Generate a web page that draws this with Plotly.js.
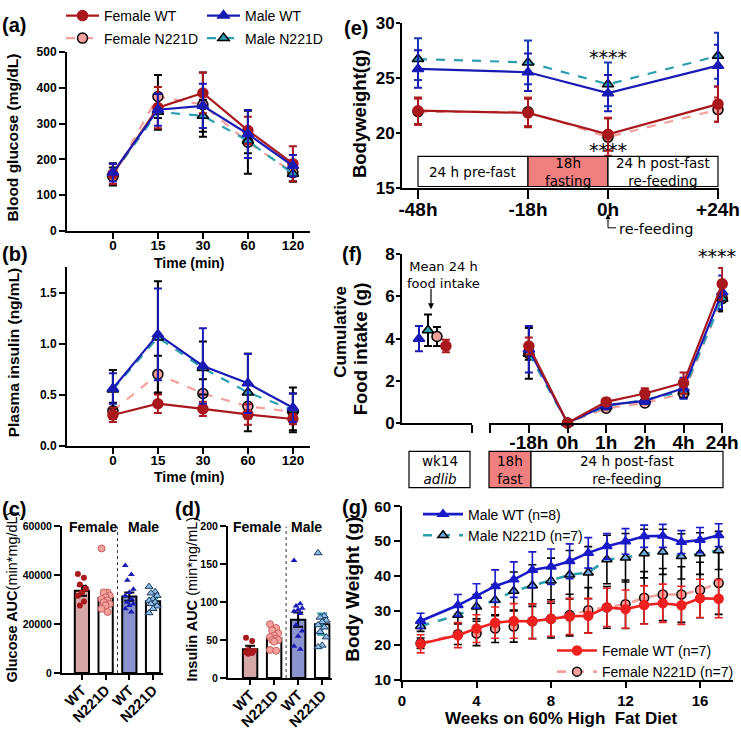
<!DOCTYPE html>
<html><head><meta charset="utf-8">
<script src="https://cdn.plot.ly/plotly-3.0.1.min.js"></script>
<style>html,body{margin:0;padding:0;background:#fff}#plot{width:741px;height:729px}</style>
</head><body><div id="plot"></div>
<script>
// ---------- DATA ----------
// (a) glucose tolerance
const aTime = ['0','15','30','60','120'];
const aFemaleWT = [159,345,386,281,188], aFemaleWTErr = [28,58,57,38,49];
const aFemaleN221D = [152,376,353,248,163], aFemaleN221DErr = [25,60,90,88,25];
const aMaleWT = [163,339,350,271,182], aMaleWTErr = [25,45,62,67,30];
const aMaleN221D = [159,333,322,252,160], aMaleN221DErr = [30,50,45,35,22];
// (b) plasma insulin
const bFemaleWT = [0.30,0.41,0.36,0.305,0.26], bFemaleWTErr = [0.07,0.09,0.07,0.10,0.05];
const bFemaleN221D = [0.34,0.70,0.51,0.385,0.33], bFemaleN221DErr = [0.08,0.18,0.14,0.12,0.18];
const bMaleWT = [0.56,1.09,0.78,0.61,0.37], bMaleWTErr = [0.15,0.45,0.37,0.29,0.14];
const bMaleN221D = [0.55,1.06,0.76,0.52,0.35], bMaleN221DErr = [0.19,0.55,0.26,0.38,0.22];
// (c) glucose AUC
const cdGroups = ['WT','N221D','WT','N221D'];
const cMeans = [33700,30700,31300,29400], cSem = [2000,2300,1700,1200];
const cFemaleWTPts = [40600,39000,36300,34600,33000,31700,29300,27700];
const cFemaleN221DPts = [51000,33000,33000,31700,31000,30300,29700,29000,28300,27700,26300,25000];
const cMaleWTPts = [44000,40300,38000,34300,33000,31700,30300,29000,28300,27700,26300,25000];
const cMaleN221DPts = [35400,33300,32700,31700,30300,29700,29000,28300,27400,26300,24600];
// (d) insulin AUC
const dMeans = [38,52,77,71], dSem = [4.5,3,9.5,14];
const dFemaleWTPts = [53,49,37,36,35,34,33,32];
const dFemaleN221DPts = [71,66,63,59,56,54,52,50,50,48,37,36];
const dMaleWTPts = [155,98,95,92,90,88,85,70,62,55,42,38];
const dMaleN221DPts = [165,82,80,76,74,70,67,61,54,43,41];
// (e) bodyweight around fasting
const eLabels = ['-48h','-18h','0h','+24h'];
const eMaleN221D = [26.7,26.4,24.4,27.0], eMaleN221DErr = [1.9,2.0,2.0,2.1];
const eMaleWT = [25.8,25.5,23.6,26.1], eMaleWTErr = [1.7,1.7,1.65,1.9];
const eFemaleWT = [22.0,21.8,19.85,22.6], eFemaleWTErr = [1.2,1.3,1.5,1.6];
const eFemaleN221D = [21.9,21.9,19.6,22.1], eFemaleN221DErr = [1.2,1.3,1.7,1.1];
// (f) cumulative food intake
const fMeanOrder = ['Male WT','Male N221D','Female N221D','Female WT'];
const fMean24h = [4.0,4.4,4.1,3.65], fMean24hErr = [0.6,0.75,0.45,0.3];
const fTimes = ['-18h','0h','1h','2h','4h','24h'];
const fMaleWT = [3.5,0,0.85,1.05,1.65,6.2], fMaleWTErr = [1.1,0.05,0.2,0.15,0.5,0.8];
const fMaleN221D = [3.3,0,0.8,1.1,1.5,5.9], fMaleN221DErr = [1.2,0.05,0.15,0.15,0.3,0.6];
const fFemaleWT = [3.65,0,1.0,1.4,1.9,6.6], fFemaleWTErr = [0.4,0.05,0.15,0.25,0.5,0.75];
const fFemaleN221D = [3.3,0,0.7,0.95,1.4,5.9], fFemaleN221DErr = [0.3,0.05,0.1,0.15,0.2,0.6];
// (g) body weight on HFD
const gWeeks = [1,3,4,5,6,7,8,9,10,11,12,13,14,15,16,17];
const gMaleWT = [27.0,31.5,34.2,37.0,38.9,41.7,42.6,44.2,46.6,48.5,49.9,51.4,51.5,49.7,50.3,51.7];
const gMaleWTErr = [2.2,3.1,3.5,4.7,5.1,5.2,5.1,5.0,4.4,3.7,3.7,3.2,3.3,3.3,3.6,3.3];
const gMaleN221D = [25.5,28.7,31.1,33.0,35.6,37.2,38.6,40.3,40.9,44.7,45.2,46.4,46.9,45.6,46.4,47.3];
const gMaleN221DErr = [1.5,2.5,3.5,4.5,5.5,6.0,6.5,7.0,7.5,7.0,7.0,7.0,6.5,6.5,6.0,5.5];
const gFemaleWT = [20.4,22.9,24.8,26.5,27.0,26.9,27.6,28.3,28.5,30.9,30.4,31.6,32.1,31.5,33.5,33.4];
const gFemaleWTErr = [2.6,3.6,4.0,4.5,5.0,5.0,5.0,5.2,5.0,5.5,5.5,5.5,5.5,5.5,5.5,5.5];
const gFemaleN221D = [20.6,23.2,23.4,24.8,25.4,26.9,27.6,28.7,30.1,30.9,31.8,33.7,34.6,34.6,35.9,37.9];
const gFemaleN221DErr = [1.5,3.0,3.5,4.0,4.5,5.0,5.5,6.0,6.5,6.0,7.0,7.5,7.5,8.0,8.0,9.0];

// ---------- HELPERS ----------
const W = 741, H = 729;
const PX = v => v / W, PY = v => 1 - v / H;
const F = 'Liberation Sans, Arial, sans-serif';
const FD = 'DejaVu Sans, sans-serif';
const bold = (size) => ({family: F, size: size, color: '#000', weight: 'bold'});

function axis(extra) {
  return Object.assign({
    showline: true, linecolor: '#000', linewidth: 2, mirror: false,
    ticks: 'outside', ticklen: 6, tickwidth: 2, tickcolor: '#000',
    showgrid: false, zeroline: false, fixedrange: true,
    tickfont: bold(12)
  }, extra);
}

const ST = {
  fWT: {name: 'Female WT', line: '#a8181c', fill: '#a8181c', edge: '#a8181c', dash: 'solid', symbol: 'circle', err: '#a8181c'},
  fN:  {name: 'Female N221D', line: '#f4a09c', fill: '#f4a09c', edge: '#000', dash: 'dash', symbol: 'circle', err: '#000'},
  mWT: {name: 'Male WT', line: '#1a1ab4', fill: '#1a1ab4', edge: '#1a1ab4', dash: 'solid', symbol: 'triangle-up', err: '#1a1ab4'},
  mN:  {name: 'Male N221D', line: '#2b9fb0', fill: '#2b9fb0', edge: '#000', dash: 'dash', symbol: 'triangle-up', err: '#000'}
};

function series(xa, ya, x, y, err, s, extra) {
  return Object.assign({
    type: 'scatter', mode: 'lines+markers', x: x, y: y, xaxis: xa, yaxis: ya,
    name: s.name, showlegend: false, cliponaxis: false,
    line: {color: s.line, width: 2.2, dash: s.dash},
    marker: {symbol: s.symbol, size: 10, color: s.fill, line: {color: s.edge, width: 1.5}},
    error_y: {type: 'data', array: err, visible: true, color: s.err, thickness: 2, width: 4}
  }, extra || {});
}

const traces = [];
// (a)
[['fN', aFemaleN221D, aFemaleN221DErr, 'legend2'], ['mN', aMaleN221D, aMaleN221DErr, 'legend2'],
 ['fWT', aFemaleWT, aFemaleWTErr, 'legend'], ['mWT', aMaleWT, aMaleWTErr, 'legend']].forEach(r => {
  traces.push(series('x', 'y', aTime, r[1], r[2], ST[r[0]], {showlegend: true, legend: r[3]}));
});
// (b)
[['fN', bFemaleN221D, bFemaleN221DErr], ['mN', bMaleN221D, bMaleN221DErr],
 ['fWT', bFemaleWT, bFemaleWTErr], ['mWT', bMaleWT, bMaleWTErr]].forEach(r => {
  traces.push(series('x2', 'y2', aTime, r[1], r[2], ST[r[0]]));
});

// (c),(d) bars + points
const jit = n => Array.from({length: n}, (_, k) => ((k * 3) % 5 - 2) * 0.085);
const barFill = ['#d6a7a7', '#ffffff', '#8b93cf', '#ffffff'];
const errCol = ['#000', '#f08080', '#000', '#2b9fb0'];
const ptStyle = [
  {symbol: 'circle', size: 6, color: '#a8181c', line: {color: '#a8181c', width: 0}},
  {symbol: 'circle', size: 7, color: '#f4a09c', line: {color: '#c86060', width: 1}},
  {symbol: 'triangle-up', size: 6, color: '#1a1ab4', line: {color: '#1a1ab4', width: 0}},
  {symbol: 'triangle-up', size: 7, color: '#8fbbe3', line: {color: '#1a3a60', width: 1}}
];
function barPanel(xa, ya, means, sem, pts) {
  means.forEach((m, i) => {
    traces.push({type: 'bar', x: [i], y: [m], xaxis: xa, yaxis: ya, width: 0.6, showlegend: false,
      marker: {color: barFill[i], line: {color: '#000', width: 2}},
      error_y: {type: 'data', array: [sem[i]], visible: true, color: errCol[i], thickness: 2, width: 5}});
  });
  pts.forEach((p, i) => {
    const j = jit(p.length);
    traces.push({type: 'scatter', mode: 'markers', x: p.map((_, k) => i + j[k]), y: p,
      xaxis: xa, yaxis: ya, showlegend: false, cliponaxis: false, marker: ptStyle[i]});
  });
}
barPanel('x3', 'y3', cMeans, cSem, [cFemaleWTPts, cFemaleN221DPts, cMaleWTPts, cMaleN221DPts]);
barPanel('x4', 'y4', dMeans, dSem, [dFemaleWTPts, dFemaleN221DPts, dMaleWTPts, dMaleN221DPts]);

// (e) positions on the custom-spaced time axis (layout spacing, px-like units)
const eSeg = [16, 110, 80, 110];
const ePos = eSeg.reduce((acc, v) => { acc.push((acc.length ? acc[acc.length - 1] : 0) + v); return acc; }, []);
const eStyle = {
  fN: Object.assign({}, ST.fN, {err: '#c03030'}), mN: Object.assign({}, ST.mN, {err: '#1a3ab4'})
};
traces.push(series('x5', 'y5', ePos, eFemaleN221D, eFemaleN221DErr, eStyle.fN));
traces.push(series('x5', 'y5', ePos, eMaleN221D, eMaleN221DErr, eStyle.mN));
traces.push(series('x5', 'y5', ePos, eMaleWT, eMaleWTErr, ST.mWT));
traces.push(series('x5', 'y5', ePos, eFemaleWT, eFemaleWTErr, ST.fWT));

// (f) left: mean 24h intake
const fKeys = ['mWT', 'mN', 'fN', 'fWT'];
fMeanOrder.forEach((nm, i) => {
  traces.push(series('x6', 'y6', [i], [fMean24h[i]], [fMean24hErr[i]], ST[fKeys[i]], {mode: 'markers'}));
});
// (f) right
const fIdx = fTimes.map((_, i) => i);
traces.push(series('x7', 'y7', fIdx, fFemaleN221D, fFemaleN221DErr, ST.fN));
traces.push(series('x7', 'y7', fIdx, fMaleN221D, fMaleN221DErr, ST.mN));
traces.push(series('x7', 'y7', fIdx, fMaleWT, fMaleWTErr, ST.mWT));
traces.push(series('x7', 'y7', fIdx, fFemaleWT, fFemaleWTErr, ST.fWT));

// (g)
const GS = {
  mWT: {name: 'Male WT (n=8)', line: '#1a1ac8', fill: '#1a1ac8', edge: '#1a1ac8', dash: 'solid', symbol: 'triangle-up', err: '#1a1ac8'},
  mN:  {name: 'Male N221D (n=7)', line: '#2b9fb0', fill: '#6fa8dc', edge: '#000', dash: 'dash', symbol: 'triangle-up', err: '#000'},
  fWT: {name: 'Female WT (n=7)', line: '#ee2020', fill: '#ee2020', edge: '#ee2020', dash: 'solid', symbol: 'circle', err: '#ee2020'},
  fN:  {name: 'Female N221D (n=7)', line: '#f4a09c', fill: '#f4a09c', edge: '#000', dash: 'dash', symbol: 'circle', err: '#000'}
};
function gser(y, e, s, lg, rank) {
  const t = series('x8', 'y8', gWeeks, y, e, s, {showlegend: true, legend: lg, legendrank: rank});
  t.marker.size = 9; t.line.width = 2.6; t.error_y.width = 4; t.error_y.thickness = 1.6;
  return t;
}
traces.push(gser(gFemaleN221D, gFemaleN221DErr, GS.fN, 'legend4', 2));
traces.push(gser(gMaleN221D, gMaleN221DErr, GS.mN, 'legend3', 2));
traces.push(gser(gFemaleWT, gFemaleWTErr, GS.fWT, 'legend4', 1));
traces.push(gser(gMaleWT, gMaleWTErr, GS.mWT, 'legend3', 1));

// ---------- LAYOUT ----------
const legBase = {bgcolor: 'rgba(0,0,0,0)', font: {family: F, size: 14, color: '#000'}, traceorder: 'normal'};
const layout = {
  width: W, height: H, margin: {l: 0, r: 0, t: 0, b: 0},
  paper_bgcolor: '#fff', plot_bgcolor: 'rgba(0,0,0,0)', showlegend: true,
  legend: Object.assign({}, legBase, {x: PX(61), y: PY(2), xanchor: 'left', yanchor: 'middle', orientation: 'h', entrywidth: 93, entrywidthmode: 'pixels', itemwidth: 33}),
  legend2: Object.assign({}, legBase, {x: PX(61), y: PY(25), xanchor: 'left', yanchor: 'middle', orientation: 'h', entrywidth: 93, entrywidthmode: 'pixels', itemwidth: 33}),
  legend3: Object.assign({}, legBase, {x: PX(418), y: PY(494), xanchor: 'left', yanchor: 'top', orientation: 'v', itemwidth: 40}),
  legend4: Object.assign({}, legBase, {x: PX(552), y: PY(633), xanchor: 'left', yanchor: 'top', orientation: 'v', itemwidth: 40}),

  xaxis: axis({domain: [PX(67), PX(310)], anchor: 'y', type: 'category', range: [-1.02, 4.38], tickfont: bold(13.5), ticklabelstandoff: -5}),
  yaxis: axis({domain: [PY(221), PY(39)], anchor: 'x', range: [0, 500], dtick: 100, tickfont: bold(12)}),
  xaxis2: axis({domain: [PX(67), PX(310)], anchor: 'y2', type: 'category', range: [-1.02, 4.38], tickfont: bold(13.5), ticklabelstandoff: -5}),
  yaxis2: axis({domain: [PY(440), PY(258)], anchor: 'x2', range: [0, 1.75], tickvals: [0, 0.5, 1, 1.5], tickformat: '.1f', tickfont: bold(12)}),

  xaxis3: axis({domain: [PX(62), PX(163)], anchor: 'y3', range: [-0.84, 3.42], tickvals: [0, 1, 2, 3], ticktext: cdGroups, tickangle: -45, tickfont: bold(14.5), ticklen: 5, ticklabelstandoff: -4}),
  yaxis3: axis({domain: [PY(672), PY(522.5)], anchor: 'x3', range: [0, 60000], dtick: 20000, tickformat: 'd', tickfont: bold(10.5)}),
  xaxis4: axis({domain: [PX(228), PX(332)], anchor: 'y4', range: [-0.92, 3.41], tickvals: [0, 1, 2, 3], ticktext: cdGroups, tickangle: -45, tickfont: bold(14.5), ticklen: 5, ticklabelstandoff: -4}),
  yaxis4: axis({domain: [PY(677), PY(522.5)], anchor: 'x4', range: [0, 200], dtick: 50, tickfont: bold(10.5)}),

  xaxis5: axis({domain: [PX(402), PX(719)], anchor: 'y5', range: [0, 317], tickvals: ePos, ticktext: eLabels, tickfont: bold(19), ticklen: 9, ticklabelstandoff: -5}),
  yaxis5: axis({domain: [PY(177), PY(9)], anchor: 'x5', range: [15, 30], dtick: 5, tickfont: bold(17), ticklen: 4, ticklabelstandoff: -2}),

  xaxis6: axis({domain: [PX(402), PX(472)], anchor: 'y6', range: [-1.89, 5.9], tickvals: [5.87], ticktext: [''], ticklen: 8}),
  yaxis6: axis({domain: [PY(417), PY(245)], anchor: 'x6', range: [0, 8], dtick: 2, tickfont: bold(17), ticklen: 4, ticklabelstandoff: -2}),
  xaxis7: axis({domain: [PX(489), PX(723)], anchor: 'y7', range: [-1.03, 5.02], tickvals: [-1.01, 0, 1, 2, 3, 4, 5], ticktext: [''].concat(fTimes), tickfont: bold(19), ticklen: 8, ticklabelstandoff: -7}),
  yaxis7: {domain: [PY(417), PY(245)], anchor: 'x7', range: [0, 8], visible: false, fixedrange: true},

  xaxis8: axis({domain: [PX(402), PX(733)], anchor: 'y8', range: [0, 17.77], tickvals: [0, 4, 8, 12, 16], tickfont: bold(15)}),
  yaxis8: axis({domain: [PY(679), PY(502)], anchor: 'x8', range: [10, 60], dtick: 10, tickfont: bold(15)}),
  shapes: [], annotations: []
};

// separators in (c),(d)
layout.shapes.push({type: 'line', xref: 'x3', yref: 'y3', x0: 1.5, x1: 1.5, y0: 0, y1: 60000, line: {color: '#333', width: 1, dash: 'dot'}});
layout.shapes.push({type: 'line', xref: 'x4', yref: 'y4', x0: 1.5, x1: 1.5, y0: 0, y1: 200, line: {color: '#333', width: 1, dash: 'dot'}});
// (e) protocol box
const eBoxFill = ['#ffffff', '#f08080', '#ffffff'];
for (let i = 0; i < 3; i++) {
  layout.shapes.push({type: 'rect', xref: 'x5', yref: 'y5', x0: ePos[i], x1: ePos[i + 1], y0: 15.1, y1: 17.85,
    fillcolor: eBoxFill[i], line: {color: '#000', width: 1.2}});
}
// re-feeding L-shaped pointer
layout.shapes.push({type: 'path', xref: 'paper', yref: 'paper',
  path: `M ${PX(608)} ${PY(207)} L ${PX(608)} ${PY(218)} L ${PX(616)} ${PY(218)}`, line: {color: '#000', width: 1}});
// (f) boxes
const fBoxes = [[409, 470, '#ffffff'], [489, 531, '#f08080'], [531, 723, '#ffffff']];
fBoxes.forEach(b => layout.shapes.push({type: 'rect', xref: 'paper', yref: 'paper', x0: PX(b[0]), x1: PX(b[1]), y0: PY(483), y1: PY(446),
  fillcolor: b[2], line: {color: '#000', width: 1.2}}));

function ann(text, x, y, font, extra) {
  layout.annotations.push(Object.assign({text: text, x: PX(x), y: PY(y), xref: 'paper', yref: 'paper', showarrow: false,
    xanchor: 'center', yanchor: 'middle', font: font}, extra || {}));
}
function arrow(x, y, ax, ay, w) {
  layout.annotations.push({text: '', x: PX(x), y: PY(y), xref: 'paper', yref: 'paper', showarrow: true,
    ax: ax, ay: ay, arrowhead: 2, arrowsize: 1, arrowwidth: w, arrowcolor: '#000', standoff: 0});
}
// panel letters
[['(a)', 0, 11], ['(b)', 0, 245], ['(c)', 0, 505], ['(d)', 173, 505], ['(e)', 342, 14], ['(f)', 340, 245], ['(g)', 340, 503]]
  .forEach(l => ann('<b>' + l[0] + '</b>', l[1], l[2], {family: F, size: 20, color: '#000'}, {xanchor: 'left'}));
// axis titles
ann('<b>Blood glucose (mg/dL)</b>', 13, 126, {family: F, size: 15.5, color: '#000'}, {textangle: -90});
ann('<b>Time (min)</b>', 190, 254, {family: F, size: 14, color: '#000'});
ann('<b>Plasma insulin (ng/mL)</b>', 13, 345, {family: F, size: 15.5, color: '#000'}, {textangle: -90});
ann('<b>Time (min)</b>', 190, 472, {family: F, size: 14, color: '#000'});
ann('<b>Glucose AUC</b>(min*mg/dL)', 12, 595, {family: F, size: 14.5, color: '#000'}, {textangle: -90});
ann('<b>Insulin AUC</b> (min*ng/mL)', 192, 597, {family: F, size: 14.5, color: '#000'}, {textangle: -90});
ann('<b>Bodyweight(g)</b>', 359, 102, {family: F, size: 18.5, color: '#000'}, {textangle: -90});
ann('<b>Cumulative</b>', 341, 275, {family: F, size: 17, color: '#000'}, {textangle: -90, yanchor: 'top'});
ann('<b>Food intake (g)</b>', 360, 272, {family: F, size: 18.5, color: '#000'}, {textangle: -90, yanchor: 'top'});
ann('<b>Body Weight (g)</b>', 353, 587, {family: F, size: 19, color: '#000'}, {textangle: -90});
ann('<b>Weeks on 60% High\u00a0 Fat Diet</b>', 561, 718, {family: F, size: 17, color: '#000'});
// group labels
ann('<b>Female</b>', 93, 523, {family: F, size: 14, color: '#000'});
ann('<b>Male</b>', 143, 523, {family: F, size: 14, color: '#000'});
ann('<b>Female</b>', 257, 523, {family: F, size: 14, color: '#000'});
ann('<b>Male</b>', 306, 523, {family: F, size: 14, color: '#000'});
// (e) texts
ann('24 h pre-fast', 472, 161, {family: FD, size: 13.5, color: '#000'});
ann('18h<br>fasting', 568, 161, {family: FD, size: 13.5, color: '#000'});
ann('24 h post-fast<br>re-feeding', 663, 161, {family: FD, size: 13.5, color: '#000'});
ann('****', 608, 44, {family: FD, size: 19, color: '#000'});
ann('****', 608, 139, {family: FD, size: 19, color: '#000'});
ann('re-feeding', 617, 219, {family: FD, size: 14.5, color: '#000'}, {xanchor: 'left'});
arrow(608, 204, 0, 5, 1);
// (f) texts
ann('Mean 24 h<br>food intake', 443, 266, {family: FD, size: 13, color: '#000'});
arrow(431, 301, 0, -22, 1.2);
ann('****', 717, 247, {family: FD, size: 19, color: '#000'});
ann('wk14<br><i>adlib</i>', 439.5, 464.5, {family: FD, size: 13.5, color: '#000'});
ann('18h<br>fast', 510, 464.5, {family: FD, size: 13.5, color: '#000'});
ann('24 h post-fast<br>re-feeding', 627, 464.5, {family: FD, size: 13.5, color: '#000'});

Plotly.newPlot('plot', traces, layout, {staticPlot: true, displayModeBar: false});
</script></body></html>
